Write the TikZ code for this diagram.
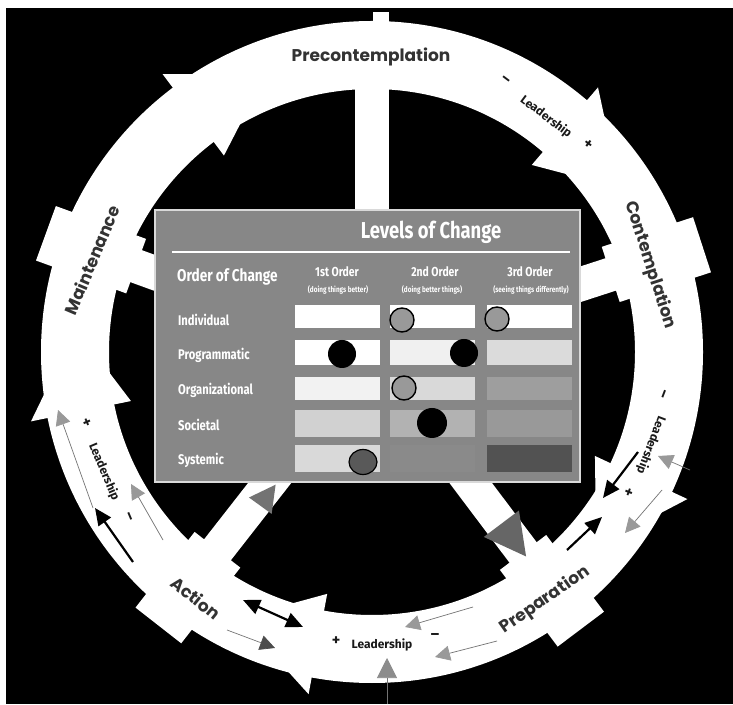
\documentclass[tikz,border=0pt]{standalone}
\usepackage{fontspec}
\newfontfamily\ringfont{Poppins}
\newfontfamily\tabfont{Fira Sans}
\usetikzlibrary{arrows.meta,calc}
\newcommand{\cond}[1]{\scalebox{0.8}[1]{#1}}
\begin{document}
\begin{tikzpicture}[x=1pt,y=1pt,
  ringlabel/.style={font=\ringfont\bfseries\fontsize{17}{17}\selectfont, text=black!80, inner sep=0},
  lead/.style={font=\tabfont\bfseries\fontsize{12}{12}\selectfont, text=black!90, inner sep=0},
  sign/.style={font=\tabfont\bfseries\fontsize{16}{16}\selectfont, text=black!90, inner sep=0},
  rowtext/.style={font=\tabfont\bfseries\fontsize{14}{14}\selectfont, text=white, inner sep=0, anchor=west},
  coltext/.style={font=\tabfont\bfseries\fontsize{13}{13}\selectfont, text=white, inner sep=0},
  subtext/.style={font=\tabfont\bfseries\fontsize{8}{8}\selectfont, text=white, inner sep=0},
  dotgray/.style={fill=black!40, draw=black, line width=1.4pt},
  blackarrow/.style={-{Triangle[length=17pt,width=15pt]}, line width=2.2pt, draw=black},
  grayarrow/.style={-{Triangle[length=15pt,width=15pt,color=black!40]}, line width=0.7pt, draw=black!55},
]
\useasboundingbox (0,0) rectangle (733,704);
\fill[white] (0,0) rectangle (733,704);
\fill[black] (6,0) rectangle (733,696);
\coordinate (C) at (372,352);

% spokes
\foreach \a in {90,18,-53,232,160} \draw[white, line width=34pt] (C) -- ($(C)+(\a:300)$);
% ring
\fill[white, even odd rule] (C) circle[radius=331] (C) circle[radius=263];
% nub of the top spoke
\fill[white] (373,640) rectangle (389,692);
% plates where the spokes meet the ring
\foreach \a in {18,-53,232,160}
  \fill[white] ($(C)+(\a:251)+(\a+90:29)$) -- ($(C)+(\a:347)+(\a+90:29)$)
            -- ($(C)+(\a:347)+(\a-90:29)$) -- ($(C)+(\a:251)+(\a-90:29)$) -- cycle;
% arrow heads of the ring segments (pointing clockwise)
\foreach \b in {191.5,259.5,335,49.5,127}
  \fill[white] ($(C)+(\b:348)$) -- ($(C)+(\b-16:297)$) -- ($(C)+(\b:246)$) -- cycle;

% spoke arrow heads
\fill[black!60] ($(C)+(-53:215)+(37:22)$) -- ($(C)+(-53:256)$) -- ($(C)+(-53:215)+(-143:22)$) -- cycle;
\fill[black!55] ($(C)+(234:190)+(324:14)$) -- ($(C)+(234:164)$) -- ($(C)+(234:190)+(144:14)$) -- cycle;

% stage labels
\node[ringlabel] (pre) at (371,647) {Precontemplation};
\node[ringlabel, rotate=-72] (con) at (650,439) {Contemplation};
\node[ringlabel, rotate=35] (prep) at (545,104) {Preparation};
\node[ringlabel, rotate=-39] (act) at (196,106) {Action};
\node[ringlabel, rotate=67] (mai) at (92,444) {Maintenance};

% leadership scales
\node[sign, rotate=-37] (l1m) at (505,623) {–};
\node[lead, rotate=-37] (l1) at (546,587) {Leadership};
\node[sign, rotate=-37] (l1p) at (588,559) {+};
\node[sign, rotate=-111] (l2m) at (662,311) {–};
\node[lead, rotate=-111] (l2) at (651,259) {Leadership};
\node[sign, rotate=-111] (l2p) at (628,212) {+};
\node[sign] (l3p) at (336,63) {+};
\node[lead] (l3) at (382,59) {Leadership};
\node[sign] (l3m) at (435,67) {–};
\node[sign, rotate=-67] (l4p) at (86,281) {+};
\node[lead, rotate=-67] (l4) at (104,232) {Leadership};
\node[sign, rotate=-67] (l4m) at (128,187) {–};

% table
\fill[black!47, draw=black!15, line width=1.5pt] (155,222) rectangle (580,494);
\node[coltext, font=\tabfont\bfseries\fontsize{23}{23}\selectfont] (title) at (431,472) {\cond{Levels of Change}};
\draw[white, line width=2pt] (172,452) -- (570,452);
\node[rowtext, font=\tabfont\bfseries\fontsize{17}{17}\selectfont] (hOrder) at (177,427) {\cond{Order of Change}};
\node[coltext] (h1) at (337,432) {\cond{1st Order}};
\node[coltext] (h2) at (435,432) {\cond{2nd Order}};
\node[coltext] (h3) at (530,432) {\cond{3rd Order}};
\node[subtext] (s1) at (338,414) {\cond{(doing things better)}};
\node[subtext] (s2) at (432,414) {\cond{(doing better things)}};
\node[subtext] (s3) at (531,414) {\cond{(seeing things differently)}};

\node[rowtext] (rInd) at (178,384) {\cond{Individual}};
\node[rowtext] (rPro) at (178,349) {\cond{Programmatic}};
\node[rowtext] (rOrg) at (178,314) {\cond{Organizational}};
\node[rowtext] (rSoc) at (178,279) {\cond{Societal}};
\node[rowtext] (rSys) at (178,244) {\cond{Systemic}};

% cells
\fill[white]    (295,376) rectangle (380,399);
\fill[white]    (390,376) rectangle (475,399);
\fill[white]    (487,376) rectangle (572,399);
\fill[white]    (295,339) rectangle (380,364);
\fill[black!6]  (390,339) rectangle (475,364);
\fill[black!14] (487,339) rectangle (572,364);
\fill[black!5]  (295,304) rectangle (380,327);
\fill[black!15] (390,304) rectangle (475,327);
\fill[black!38] (487,304) rectangle (572,327);
\fill[black!18] (295,267) rectangle (380,294);
\fill[black!30] (390,267) rectangle (475,294);
\fill[black!40] (487,267) rectangle (572,294);
\fill[black!15] (295,232) rectangle (380,259);
\fill[black!46] (390,232) rectangle (475,259);
\fill[black!68] (487,232) rectangle (572,259);

% dots
\filldraw[dotgray] (402,384) circle[radius=12];
\filldraw[dotgray] (497,385) circle[radius=12];
\fill[black] (342,350) circle[radius=14];
\fill[black] (464,351) circle[radius=14];
\filldraw[dotgray] (404,316) circle[radius=12];
\fill[black] (432,281) circle[radius=15];
\filldraw[fill=black!65, draw=black, line width=1.2pt] (363,242) ellipse[x radius=14, y radius=12.5];

% small arrows along the ring
\coordinate (a1s) at (93,196);  \coordinate (a1e) at (58,294);
\coordinate (a2s) at (163,164); \coordinate (a2e) at (131,220);
\coordinate (a3s) at (133,142); \coordinate (a3e) at (95,196);
\coordinate (a4s) at (243,104); \coordinate (a4e) at (303,77);
\coordinate (a5s) at (227,74);  \coordinate (a5e) at (275,56);
\coordinate (a6s) at (387,0);   \coordinate (a6e) at (387,46);
\coordinate (a7s) at (473,97);  \coordinate (a7e) at (405,77);
\coordinate (a8s) at (497,63);  \coordinate (a8e) at (435,47);
\coordinate (a9s) at (567,154); \coordinate (a9e) at (602,187);
\coordinate (a10s) at (662,214); \coordinate (a10e) at (625,171);
\coordinate (a11s) at (638,252); \coordinate (a11e) at (603,206);
\coordinate (a12s) at (690,234); \coordinate (a12e) at (658,248);
\draw[grayarrow] (a1s) -- (a1e);
\draw[grayarrow] (a2s) -- (a2e);
\draw[blackarrow] (a3s) -- (a3e);
\draw[{Triangle[length=17pt,width=15pt]}-{Triangle[length=17pt,width=15pt]}, line width=2.2pt] (a4s) -- (a4e);
\draw[grayarrow, -{Triangle[length=15pt,width=15pt,color=black!70]}] (a5s) -- (a5e);
\draw[grayarrow, -{Triangle[length=20pt,width=20pt,color=black!45]}] (a6s) -- (a6e);
\draw[grayarrow] (a7s) -- (a7e);
\draw[grayarrow] (a8s) -- (a8e);
\draw[blackarrow] (a9s) -- (a9e);
\draw[grayarrow] (a10s) -- (a10e);
\draw[blackarrow] (a11s) -- (a11e);
\draw[grayarrow] (a12s) -- (a12e);
\end{tikzpicture}
\end{document}
